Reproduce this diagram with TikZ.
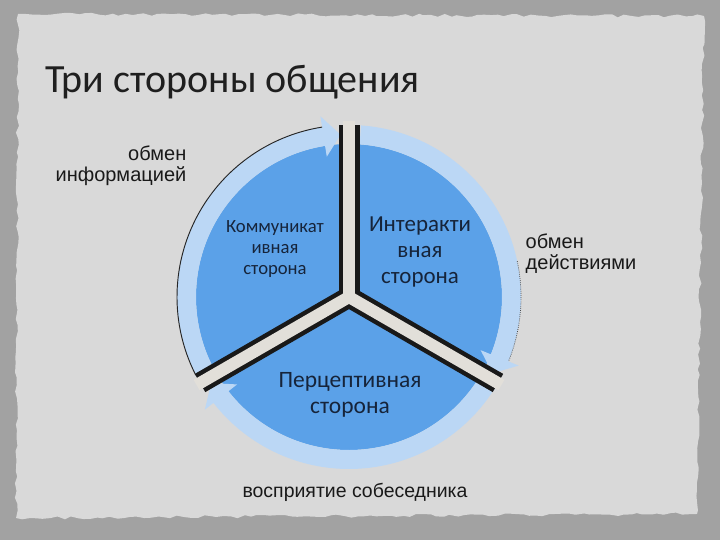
\documentclass[tikz,border=0pt]{standalone}
\usepackage{fontspec}
\setmainfont{Carlito}
\newfontfamily\sidefont{Liberation Sans}
\usetikzlibrary{decorations.pathmorphing}
\definecolor{backgr}{HTML}{A2A2A2}
\definecolor{paper}{HTML}{D9D9D9}
\definecolor{sector}{HTML}{5BA1E8}
\definecolor{ringblue}{HTML}{BBD7F5}
\definecolor{gapgray}{HTML}{E2DFD9}
\definecolor{navytext}{HTML}{16243A}

\begin{document}
\begin{tikzpicture}
      [x=0.75pt, y=0.75pt,
       sidetext/.style={font=\sidefont\fontsize{15}{15.75}\selectfont, text=black!90},
       sectortext/.style={text=navytext, align=center, inner sep=0pt}]
      \useasboundingbox (0,0) rectangle (720,540);
      \fill[backgr] (0,0) rectangle (720,540);
      \pgfmathsetseed{11}
      \fill[paper, decorate, decoration={random steps, segment length=5pt, amplitude=1.2pt}]
        (18,526) -- (704,524) -- (697,26) -- (16,22) -- cycle;
      \node[anchor=base west, inner sep=0pt, font=\fontsize{30}{36}\selectfont, text=black!88]
        (title) at (45,447) {Три стороны общения};
      \coordinate (c) at (349,243);
      \begin{scope}[shift={(c)}]
        \fill[sector] (0,0) circle (153);
        \foreach \a/\b in {208/99, 86/-22, -31/-142}
          \fill[ringblue] (\a:172) arc[start angle=\a, end angle=\b, radius=172]
            -- (\b:183) -- ({\b-6}:162.5) -- (\b:142) -- (\b:153)
            arc[start angle=\b, end angle=\a, radius=153] -- cycle;
        \draw[line width=0.7pt, black!85] (207:172) arc[start angle=207, end angle=99, radius=172];
        \draw[line width=0.6pt, black!70, densely dotted] (12:172) arc[start angle=12, end angle=-22, radius=172];
        \foreach \d in {90,210,330}
          \draw[line width=15.75pt, black!90] (0,0) -- (\d:172);
        \foreach \d in {90,210,330}
          \draw[line width=9pt, gapgray] (0,0) -- (\d:176);
      \end{scope}
      \node[sectortext, font=\fontsize{14}{16}\selectfont] (komm) at (275,291)
        {Коммуникат\\ивная\\сторона};
      \node[sectortext, font=\fontsize{17.2}{19.5}\selectfont] (inter) at (420,288)
        {Интеракти\\вная\\сторона};
      \node[sectortext, font=\fontsize{17.6}{19}\selectfont] (perc) at (350,145)
        {Перцептивная\\сторона};
      \node[sidetext, align=right, anchor=east] (info) at (191,374) {обмен\\информацией};
      \node[sidetext, align=left, anchor=west] (act) at (521,286) {обмен\\действиями};
      \node[sidetext, anchor=base, font=\sidefont\fontsize{14.6}{15.75}\selectfont] (view) at (355,43) {восприятие собеседника};
\end{tikzpicture}
\end{document}
